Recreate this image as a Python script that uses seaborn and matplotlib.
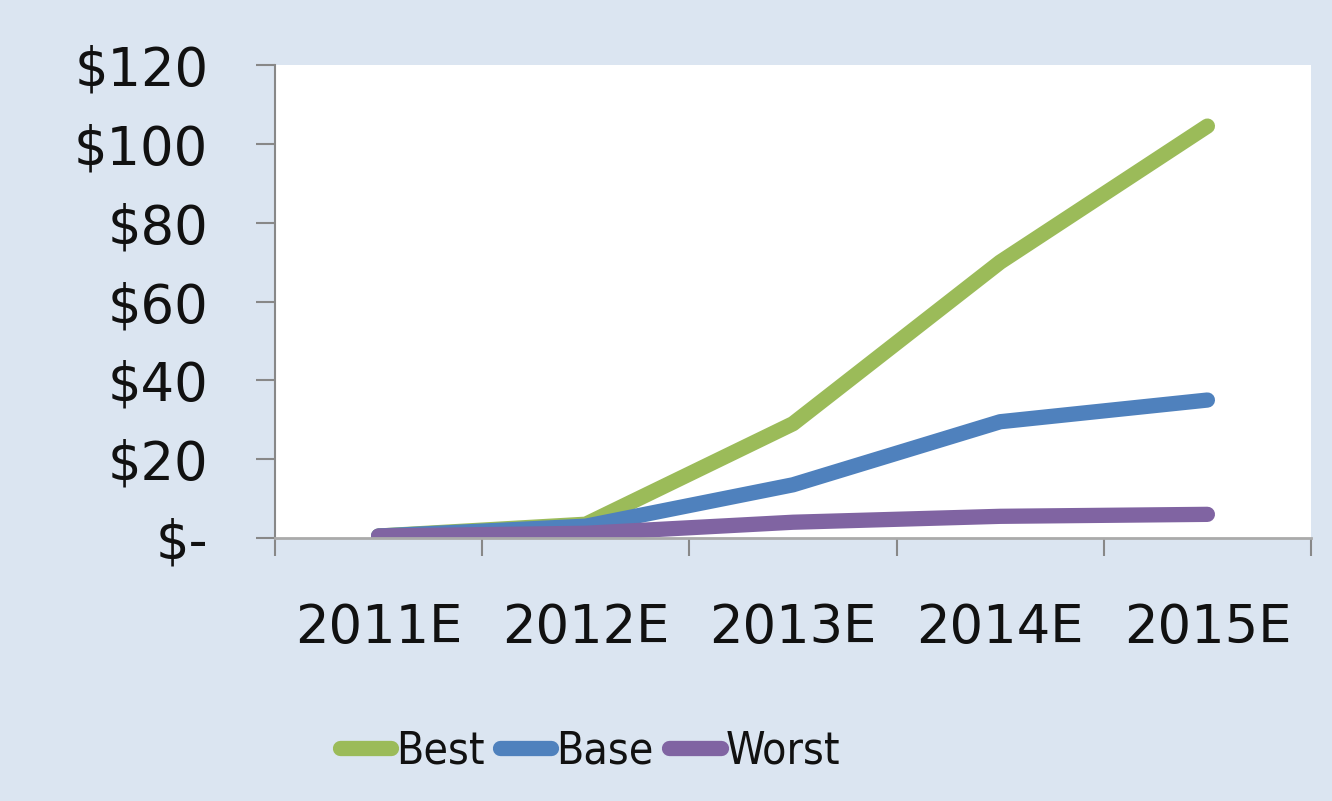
import matplotlib
matplotlib.use("Agg")
import matplotlib.pyplot as plt
import seaborn as sns
import pandas as pd
from matplotlib.lines import Line2D
from matplotlib import font_manager

years = ["2011E", "2012E", "2013E", "2014E", "2015E"]
best = [0.5, 3.5, 29, 70, 104.5]
base = [0.5, 3.0, 13.5, 29.5, 35]
worst = [0.5, 1.2, 4.0, 5.5, 6.0]
series_names = ["Best", "Base", "Worst"]
colors = ["#9bbb59", "#4f81bd", "#8064a2"]
ytick_vals = [0, 20, 40, 60, 80, 100, 120]
ytick_labels = ["$-", "$20", "$40", "$60", "$80", "$100", "$120"]

df = pd.DataFrame({
    "year": years * 3,
    "value": best + base + worst,
    "scenario": [n for n in series_names for _ in years],
})
df["pos"] = [i for _ in series_names for i in range(len(years))]

sns.set_style("white")
plt.rcParams["font.family"] = ["DejaVu Sans"]
plt.rcParams["text.color"] = "#111111"
plt.rcParams["xtick.color"] = "#111111"
plt.rcParams["ytick.color"] = "#111111"

bg = "#dbe5f1"
fig = plt.figure(figsize=(13.32, 8.01), dpi=100, facecolor=bg)
ax = fig.add_axes([275/1332, 1 - 538/801, (1311 - 275)/1332, (538 - 65)/801])
ax.set_facecolor("white")

sns.lineplot(data=df, x="pos", y="value", hue="scenario", hue_order=series_names,
             palette=colors, linewidth=11, ax=ax, legend=False,
             solid_capstyle="round", solid_joinstyle="round")

ax.set_xlim(-0.5, len(years) - 0.5)
ax.set_ylim(0, 120)
ax.set_yticks(ytick_vals)
ax.set_yticklabels(ytick_labels, fontsize=38)
ax.set_xticks([i - 0.5 for i in range(len(years) + 1)])
ax.set_xticklabels([])
ax.set_xticks(range(len(years)), minor=True)
ax.set_xticklabels(years, minor=True, fontsize=38)
ax.tick_params(axis="x", which="minor", bottom=True, length=0, pad=46, labelcolor="#111111")
ax.tick_params(axis="x", which="major", bottom=True, length=13, width=1.5,
               color="#888888", direction="out")
ax.tick_params(axis="y", left=True, length=14, width=1.5, color="#888888",
               direction="out", pad=34, labelcolor="#111111")
ax.set_xlabel("")
ax.set_ylabel("")

for s in ["top", "right"]:
    ax.spines[s].set_visible(False)
ax.spines["left"].set_color("#888888")
ax.spines["left"].set_linewidth(1.5)
ax.spines["bottom"].set_color("#aaaaaa")
ax.spines["bottom"].set_linewidth(2)

names = {f.name for f in font_manager.fontManager.ttflist}
if "Liberation Sans Narrow" in names:
    legend_prop = {"family": "Liberation Sans Narrow", "size": 38}
else:
    legend_prop = {"family": "DejaVu Sans", "stretch": "condensed", "size": 32}

handles = [Line2D([0], [0], color=c, linewidth=11, solid_capstyle="round") for c in colors]
fig.legend(handles, series_names, loc="center", bbox_to_anchor=(590/1332, 1 - 751/801),
           ncol=3, frameon=False, prop=legend_prop,
           handlelength=1.15, handletextpad=0.12, columnspacing=0.35)

fig.savefig("out.png", dpi=100, facecolor=bg)
